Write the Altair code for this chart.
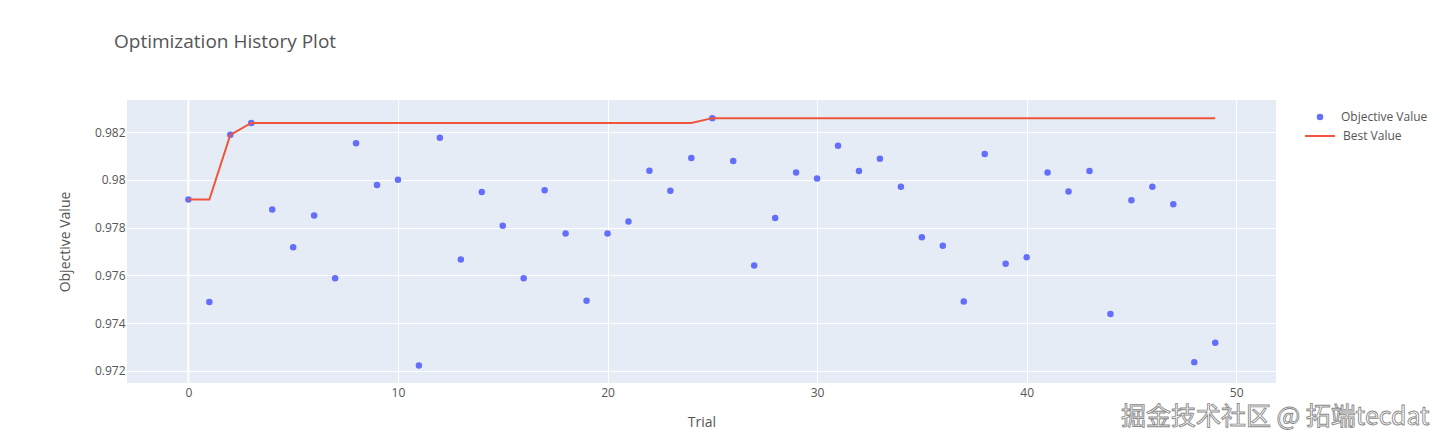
import altair as alt
import pandas as pd

trials = list(range(50))
objective_values = [
    0.97918, 0.97488, 0.98189, 0.98239, 0.97876, 0.97718, 0.97851, 0.97588, 0.98154, 0.97979,
    0.98001, 0.97222, 0.98177, 0.97666, 0.97949, 0.97808, 0.97588, 0.97957, 0.97775, 0.97493,
    0.97775, 0.97826, 0.98038, 0.97955, 0.98092, 0.98259, 0.98079, 0.97641, 0.97840, 0.98031,
    0.98006, 0.98143, 0.98037, 0.98089, 0.97971, 0.97760, 0.97724, 0.97490, 0.98109, 0.97648,
    0.97676, 0.98031, 0.97951, 0.98037, 0.97438, 0.97915, 0.97971, 0.97898, 0.97236, 0.97317,
]
series_names = ["Objective Value", "Best Value"]
series_colors = ["#636efa", "#EF553B"]
x_ticks = [0, 10, 20, 30, 40, 50]
y_ticks = [0.972, 0.974, 0.976, 0.978, 0.98, 0.982]
zero_line = [0]
watermark = ["掘金技术社区 @ 拓端tecdat"]

df = pd.DataFrame({"trial": trials, "value": objective_values})
df["s_obj"] = series_names[0]
df["s_best"] = series_names[1]

TEXT = "#555555"
FONT = "Open Sans"

x_enc = alt.X(
    "trial:Q",
    scale=alt.Scale(domain=[-2.93, 51.9], nice=False, zero=False),
    axis=alt.Axis(values=x_ticks, format="d", title="Trial", labelPadding=4,
                  titleBaseline="alphabetic", titleY=43),
)
y_enc = alt.Y(
    "value:Q",
    scale=alt.Scale(domain=[0.971485, 0.98335], nice=False, zero=False),
    axis=alt.Axis(values=y_ticks, format=".3~f", title="Objective Value", labelPadding=2,
                  titleX=-62, titleY=141.5, titleBaseline="middle", titleAlign="center"),
)

base = alt.Chart(df)

zero_rule = alt.Chart(pd.DataFrame({"z": zero_line})).mark_rule(
    color="white", strokeWidth=2
).encode(x=alt.X("z:Q", scale=alt.Scale(domain=[-2.93, 51.9], nice=False, zero=False)))

points = base.mark_circle(size=42, opacity=1).encode(
    x=x_enc,
    y=y_enc,
    color=alt.Color(
        "s_obj:N",
        scale=alt.Scale(domain=[series_names[0]], range=[series_colors[0]]),
        legend=alt.Legend(title=None, orient="none", legendX=1187, legendY=11,
                          symbolSize=42, symbolType="circle", labelOffset=15, padding=0),
    ),
)

best_line = base.transform_window(
    best="max(value)", frame=[None, 0], sort=[alt.SortField("trial")]
).mark_line(strokeWidth=2).encode(
    x=alt.X("trial:Q"),
    y=alt.Y("best:Q"),
    color=alt.Color(
        "s_best:N",
        scale=alt.Scale(domain=[series_names[1]], range=[series_colors[1]]),
        legend=alt.Legend(title=None, orient="none", legendX=1177, legendY=20,
                          symbolSize=900, symbolType="stroke", symbolStrokeWidth=2,
                          labelOffset=7, padding=0),
    ),
)

wm = alt.Chart(pd.DataFrame({"t": watermark})).mark_text(
    align="left", baseline="middle", font="Noto Sans CJK SC", fontSize=25,
    fill="white", stroke="#8a8a8a", strokeWidth=0.9,
).encode(text="t:N", x=alt.value(994), y=alt.value(317))

chart = alt.layer(zero_rule, points, best_line, wm).resolve_scale(
    color="independent"
).properties(
    width=1149,
    height=283,
    autosize="none",
    padding={"left": 119, "top": 92, "right": 163, "bottom": 52},
    title=alt.TitleParams(
        "Optimization History Plot", anchor="start", frame="group", dx=-13, offset=32,
        baseline="alphabetic", fontSize=19, font=FONT, fontWeight="normal", color=TEXT,
    ),
).configure_view(
    fill="#E5ECF6", stroke=None
).configure_axis(
    grid=True, gridColor="white", gridWidth=1, domain=False, ticks=False,
    labelFont=FONT, labelFontSize=12, labelColor=TEXT,
    titleFont=FONT, titleFontSize=14, titleColor=TEXT, titleFontWeight="normal",
).configure_legend(
    labelFont=FONT, labelFontSize=12, labelColor=TEXT,
)

chart.save("out.html", embed_options={"renderer": "svg", "actions": False})
